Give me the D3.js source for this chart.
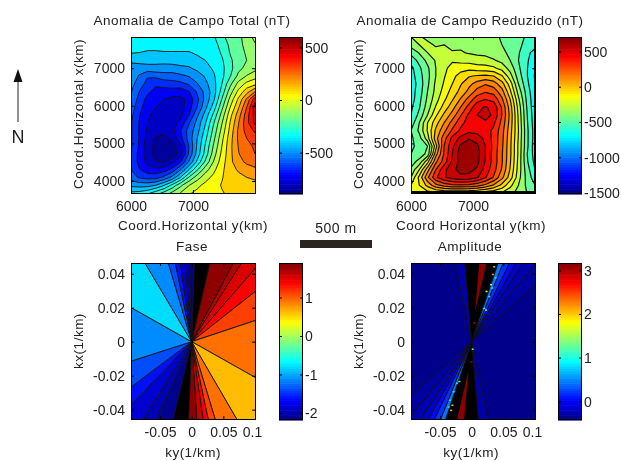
<!DOCTYPE html>
<html><head><meta charset="utf-8">
<script src="https://cdn.jsdelivr.net/npm/d3@7"></script>
<style>html,body{margin:0;background:#fff}svg{display:block;filter:blur(0.3px)}text{font-family:"Liberation Sans",Arial,sans-serif;fill:#222}</style>
</head><body><svg id="c" width="621" height="460"></svg>
<script>
// Field grids: rows run from the top of the map (north) to the bottom, columns west to east
const totalField = [
[-335,-340,-345,-350,-350,-345,-345,-350,-350,-345,-310,-240,-200,-180,-100,-60],
[-340,-340,-345,-345,-345,-345,-345,-345,-345,-345,-330,-270,-210,-180,-120,-80],
[-370,-375,-385,-385,-380,-380,-380,-380,-365,-350,-340,-290,-220,-180,-140,-100],
[-430,-415,-420,-430,-425,-420,-410,-410,-395,-375,-350,-310,-240,-180,-150,-120],
[-490,-500,-480,-470,-480,-480,-470,-460,-430,-400,-365,-320,-250,-170,-130,-100],
[-490,-530,-590,-580,-560,-560,-540,-520,-490,-440,-385,-320,-230,-130,-70,-30],
[-500,-560,-630,-660,-640,-630,-620,-590,-530,-470,-400,-300,-170,-50,20,50],
[-520,-600,-660,-700,-710,-710,-720,-680,-590,-500,-410,-270,-110,20,120,220],
[-530,-630,-700,-730,-750,-770,-770,-730,-620,-500,-390,-220,-50,90,240,420],
[-560,-650,-720,-750,-770,-785,-780,-710,-600,-470,-340,-170,0,140,300,490],
[-580,-670,-740,-770,-790,-800,-770,-680,-540,-420,-280,-120,50,190,340,480],
[-590,-680,-750,-790,-800,-780,-730,-610,-500,-380,-230,-80,80,220,350,470],
[-590,-680,-760,-810,-810,-770,-680,-570,-480,-350,-200,-50,100,240,330,390],
[-590,-680,-780,-830,-840,-800,-700,-570,-450,-320,-170,-20,120,240,300,330],
[-590,-690,-790,-850,-880,-860,-770,-600,-440,-290,-140,0,130,230,280,310],
[-600,-700,-790,-860,-885,-875,-780,-590,-420,-270,-110,20,130,220,270,300],
[-610,-700,-770,-820,-830,-770,-680,-520,-360,-210,-70,40,130,200,240,260],
[-600,-670,-720,-730,-710,-650,-530,-380,-240,-110,-20,60,120,160,190,210],
[-560,-610,-630,-630,-580,-500,-370,-220,-110,-30,20,70,110,130,150,160],
[-470,-480,-480,-450,-380,-280,-170,-80,-20,20,50,80,100,110,120,130],
[-360,-350,-320,-260,-200,-130,-70,-10,20,40,60,70,90,95,100,100]];
const reducedField = [
[-300,-290,-320,-350,-340,-370,-350,-380,-360,-390,-380,-410,-400,-450,-520,-500],
[-360,-300,-280,-310,-300,-330,-320,-340,-350,-360,-370,-400,-410,-470,-540,-560],
[-470,-390,-300,-270,-280,-290,-290,-310,-320,-330,-350,-380,-420,-490,-570,-640],
[-560,-470,-370,-290,-240,-210,-230,-240,-260,-260,-290,-330,-400,-500,-580,-680],
[-630,-520,-420,-300,-220,-170,-140,-130,-150,-160,-180,-240,-340,-480,-590,-700],
[-650,-540,-430,-300,-210,-130,-60,-10,10,20,0,-90,-260,-450,-590,-710],
[-660,-560,-420,-280,-190,-100,-10,70,140,190,150,40,-150,-400,-570,-700],
[-650,-550,-400,-270,-160,-60,30,130,240,290,260,140,-80,-340,-540,-690],
[-650,-530,-380,-240,-120,-10,110,240,360,400,370,220,0,-280,-520,-680],
[-620,-510,-350,-190,-60,60,200,340,470,510,470,290,50,-240,-500,-680],
[-600,-470,-300,-120,20,140,290,420,500,540,480,300,70,-220,-490,-670],
[-560,-400,-200,-40,100,240,370,440,470,480,420,270,60,-210,-480,-660],
[-500,-380,-190,20,170,320,420,470,460,440,380,240,40,-200,-470,-650],
[-520,-440,-250,60,260,430,530,590,560,470,370,230,30,-210,-470,-650],
[-520,-470,-400,-40,300,480,620,680,620,500,370,220,20,-220,-470,-660],
[-500,-460,-370,60,310,500,660,690,640,500,360,210,20,-220,-490,-650],
[-450,-360,-130,180,350,520,640,680,630,490,360,210,10,-230,-480,-630],
[-380,-200,60,300,470,570,640,640,580,460,340,190,-10,-240,-450,-600],
[-300,-70,180,380,490,540,570,560,510,410,290,130,-50,-260,-430,-560],
[-200,-100,30,170,240,280,290,280,240,180,90,-30,-170,-300,-420,-500],
[-180,-160,-140,-120,-110,-110,-110,-120,-130,-160,-180,-210,-270,-330,-400,-450]];
// Phase wedges clockwise from north: ray end [ky,kx] and phase up to the next ray (null = dense black contours)
const phaseRays = [
[0.004,0.0465],[0.029,0.0465],[0.066,0.0465],[0.079,0.0465],[0.1,0.043],[0.1,0.0294],[0.1,0.0124],[0.1,-0.021],
[0.071,-0.0455],[0.037,-0.0455],[0.026,-0.0455],[0.018,-0.0455],[0.008,-0.0455],[-0.005,-0.0455],[-0.029,-0.0455],
[-0.055,-0.0455],[-0.076,-0.0455],[-0.0953,-0.037],[-0.0953,-0.0265],[-0.0953,-0.0114],[-0.0953,0.02],
[-0.074,0.0465],[-0.037,0.0465],[-0.026,0.0465],[-0.018,0.0465],[-0.0105,0.0465],[-0.0026,0.0465]];
const phaseValues = [null,1.85,1.7,1.55,1.4,1.15,0.95,0.65,0.95,1.15,1.4,1.6,1.85,null,-2.1,-1.95,-1.85,-1.6,-1.35,-1.1,-0.78,-1.1,-1.35,-1.6,-1.85,-2.0,-2.1];
// Amplitude wedges (north half, repeated through the origin)
const ampRays = [[-0.026,0.0465],[-0.0105,0.0465],[0.042,0.0465],[0.05,0.0465],[0.06,0.0465],[0.07,0.0465],[0.082,0.0465],[0.1,0.0455],[0.1,0.0333]];
const ampValues = [-0.28,null,0.45,0.2,0.05,-0.15,-0.25,-0.3];
const ampStrip = [[0.012,0.0465],[0.024,0.0465],[0.0053,0.0176]];
const ampSpecks = [[0.034,0.0445,2],[0.032,0.04,2.2],[0.029,0.034,1.6],[0.022,0.03,1.8],[0.036,0.038,0.9],[0.031,0.032,0.9],[0.026,0.027,0.9],[0.018,0.02,0.9],[0.003,0.0115,3],[0.021,0.019,1.3],[-0.002,-0.0115,3],[-0.021,-0.023,1.2],[-0.032,-0.037,2],[-0.034,-0.04,2],[-0.038,-0.038,0.9],[-0.036,-0.034,0.9],[-0.03,-0.029,0.9],[-0.025,-0.024,0.9],[0.0,-0.004,1.2]];
const groundLabel = "500 m";
const ticksY = [4000,5000,6000,7000], ticksX = [6000,7000];
const ticksKx = [-0.04,-0.02,0,0.02,0.04], ticksKy = [-0.05,0,0.05,0.1];

const svg = d3.select("#c");
const jetStops = [[0,"#000080"],[0.125,"#0000ff"],[0.375,"#00ffff"],[0.625,"#ffff00"],[0.875,"#ff0000"],[1,"#800000"]];
const jet = d3.scaleLinear().domain(jetStops.map(d=>d[0])).range(jetStops.map(d=>d[1])).clamp(true);

const fmt = d => d===0 ? "0" : String(d);
function frame(p, x, y, xt, yt, opts){
  const g = p;
  const ax = g.append("g").attr("transform",`translate(0,${y.range()[0]})`).call(d3.axisBottom(x).tickValues(xt).tickSize(-3).tickPadding(8).tickFormat(fmt));
  g.append("g").attr("transform",`translate(${x.range()[0]},0)`).call(d3.axisLeft(y).tickValues(yt).tickSize(-3).tickPadding(6).tickFormat(fmt));
  g.append("g").attr("transform",`translate(0,${y.range()[1]})`).call(d3.axisTop(x).tickValues(xt).tickSize(-3).tickFormat(""));
  g.append("g").attr("transform",`translate(${x.range()[1]},0)`).call(d3.axisRight(y).tickValues(yt).tickSize(-3).tickFormat(""));
  g.selectAll(".tick text").style("font-size","14px").style("font-family",'"Liberation Sans"').attr("fill","#222");
  g.selectAll(".domain").attr("stroke","#000");
  if(opts && opts.shift01) ax.selectAll(".tick").filter(d=>d===0.1).select("text").attr("dx",-3);
}
function texts(cx,title,xl,yl,titleY,xlY,ylY){
  const st=s=>s.style("font-size","13.5px").style("letter-spacing","0.5px");
  st(svg.append("text").attr("x",cx).attr("y",titleY).attr("text-anchor","middle")).text(title);
  st(svg.append("text").attr("x",cx+1).attr("y",xlY).attr("text-anchor","middle")).text(xl);
  st(svg.append("text").attr("transform",`translate(${cx===470?363:cx-109},${ylY}) rotate(-90)`).attr("text-anchor","middle")).text(yl);
}
function colorbar(x0,y0,y1,dom,ticks){
  const w=24, c=d3.scaleLinear().domain(dom).range([y1,y0]);
  const g=svg.append("g"), n=64;
  const lv=d3.range(n);
  g.selectAll("rect.b").data(lv).join("rect").attr("class","b").attr("x",x0).attr("width",w)
    .attr("y",i=>y1-(i+1)*(y1-y0)/n).attr("height",(y1-y0)/n+0.6).attr("fill",i=>jet((i+0.5)/n));
  g.append("rect").attr("x",x0+.5).attr("y",y0+.5).attr("width",w-1).attr("height",y1-y0-1).attr("fill","none").attr("stroke","#000");
  const a=g.append("g").attr("transform",`translate(${x0+w},0)`).call(d3.axisRight(c).tickValues(ticks).tickSize(0).tickPadding(2).tickFormat(fmt));
  a.select(".domain").remove();
  a.selectAll("text").style("font-size","14px").style("font-family",'"Liberation Sans"').attr("fill","#222");
  ticks.forEach(t=>{g.append("line").attr("x1",x0+w-3).attr("x2",x0+w).attr("y1",c(t)).attr("y2",c(t)).attr("stroke","#000");
    g.append("line").attr("x1",x0).attr("x2",x0+3).attr("y1",c(t)).attr("y2",c(t)).attr("stroke","#000");});
}
let clipN=0;
function clip(x,y){const id="cl"+(clipN++);
  svg.append("clipPath").attr("id",id).append("rect").attr("x",x.range()[0]).attr("y",y.range()[1]).attr("width",x.range()[1]-x.range()[0]).attr("height",y.range()[0]-y.range()[1]);
  return svg.append("g").attr("clip-path",`url(#${id})`);}

function contourPanel(field,x0,dom,step,sw,heavy){
  const x=d3.scaleLinear().domain([6000,8000]).range([x0,x0+124]);
  const y=d3.scaleLinear().domain([3680,7830]).range([193,37]);
  const rows=field.length, cols=field[0].length;
  const gx=d3.scaleLinear().domain([0.5,cols-0.5]).range(x.domain());
  const gy=d3.scaleLinear().domain([0.5,rows-0.5]).range([y.domain()[1],y.domain()[0]]);
  const levels=d3.range(Math.ceil(dom[0]/step)*step,dom[1],step);
  const col=d3.scaleLinear().domain(dom).range([0,1]);
  const cs=d3.contours().size([cols,rows]).thresholds(levels)(field.flat());
  const path=d3.geoPath(d3.geoTransform({point(a,b){this.stream.point(x(gx(a)),y(gy(b)));}}));
  const g=clip(x,y);
  g.append("rect").attr("x",x0).attr("y",37).attr("width",124).attr("height",156).attr("fill",jet(col(dom[0]+step/2)));
  g.selectAll("path").data(cs).join("path").attr("d",path).attr("fill",d=>jet(col(d.value+step/2))).attr("stroke","#111").attr("stroke-width",sw).attr("stroke-linejoin","round");
  if(heavy){
    g.append("rect").attr("x",x0).attr("y",191).attr("width",124).attr("height",2).attr("fill","#000");
    g.append("rect").attr("x",x0+123).attr("y",37).attr("width",1).attr("height",156).attr("fill","#000");
  }
  frame(svg.append("g"),x,y,ticksX,ticksY);
}
function wedgePanel(x0,dom,draw){
  const x=d3.scaleLinear().domain([-0.0958,0.1]).range([x0,x0+124]);
  const y=d3.scaleLinear().domain([-0.0455,0.0463]).range([419,263]);
  const col=d3.scaleLinear().domain(dom).range([0,1]);
  const g=clip(x,y);
  draw(g,x,y,col);
  frame(svg.append("g"),x,y,ticksKy,ticksKx,{shift01:true});
}
function wedge(g,x,y,a,b,fill){
  const p=[[0,0],[a[0]*3,a[1]*3],[b[0]*3,b[1]*3]].map(d=>[x(d[0]),y(d[1])]);
  g.append("path").attr("d",d3.line()(p)+"Z").attr("fill",fill).attr("stroke","#111").attr("stroke-width",0.9);
}
contourPanel(totalField,131,[-889,604],75,0.9,false);
contourPanel(reducedField,411,[-1514,712],100,1.2,true);
wedgePanel(131,[-2.17,1.91],(g,x,y,col)=>{
  phaseRays.forEach((r,i)=>{const v=phaseValues[i];const nx=phaseRays[(i+1)%phaseRays.length];
    wedge(g,x,y,r,nx,v===null?"#000":jet(col(v)));});
});
wedgePanel(411,[-0.42,3.18],(g,x,y,col)=>{
  g.append("rect").attr("x",411).attr("y",263).attr("width",124).attr("height",156).attr("fill",jet(col(-0.38)));
  [1,-1].forEach(s=>{
    ampRays.slice(0,-1).forEach((r,i)=>{const v=ampValues[i];
      wedge(g,x,y,[s*r[0],s*r[1]],[s*ampRays[i+1][0],s*ampRays[i+1][1]],v===null?"#000":jet(col(v)));});
    g.append("path").attr("d",d3.line()(ampStrip.map(d=>[x(s*d[0]*(d[1]>0.04?1.1:1)),y(s*d[1]*(d[1]>0.04?1.1:1))]))+"Z").attr("fill","#8a0000");
  });
  g.selectAll("rect.s").data(ampSpecks).join("rect").attr("class","s").attr("x",d=>x(d[0])).attr("y",d=>y(d[1])).attr("width",2).attr("height",1.5).attr("fill",d=>jet(col(d[2])));
});
colorbar(279,37,194,[-889,604],[-500,0,500]);
colorbar(558,37,194,[-1514,712],[-1500,-1000,-500,0,500]);
colorbar(279,263,420,[-2.17,1.91],[-2,-1,0,1]);
colorbar(558,263,420,[-0.42,3.18],[0,1,2,3]);
texts(192,"Anomalia de Campo Total (nT)","Coord.Horizontal y(km)","Coord.Horizontal x(km)",25,230,114);
texts(470,"Anomalia de Campo Reduzido (nT)","Coord Horizontal y(km)","Coord.Horizontal x(km)",25,230,114);
texts(192,"Fase","ky(1/km)","kx(1/km)",251,457,341);
texts(470,"Amplitude","ky(1/km)","kx(1/km)",251,457,341);
// north arrow and scale bar
svg.append("line").attr("x1",18).attr("x2",18).attr("y1",78).attr("y2",122).attr("stroke","#222");
svg.append("path").attr("d",d3.line()([[18,69],[13.5,82],[22.5,82]])+"Z").attr("fill","#111");
svg.append("text").attr("x",18).attr("y",143).attr("text-anchor","middle").style("font-size","18px").text("N");
svg.append("text").attr("x",336).attr("y",233).attr("text-anchor","middle").style("font-size","14px").style("letter-spacing","0.5px").text(groundLabel);
svg.append("rect").attr("x",300).attr("y",240).attr("width",72).attr("height",8).attr("fill","#2a251f");
</script></body></html>
